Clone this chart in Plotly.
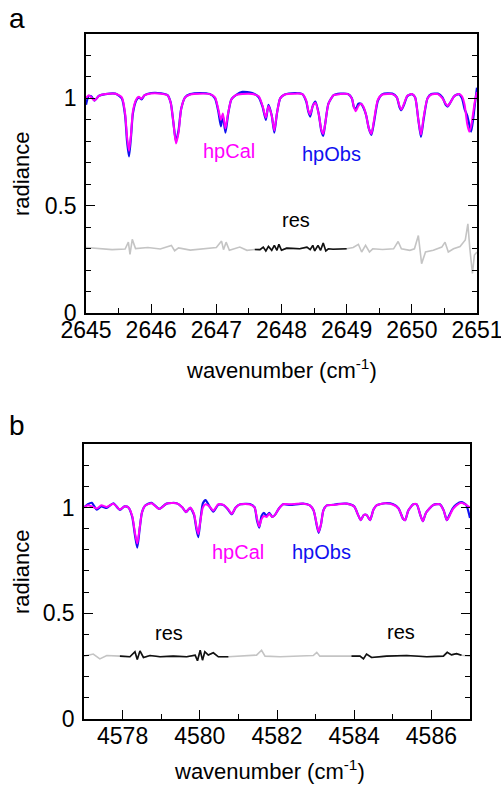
import plotly.graph_objects as go

# ---------------- Panel a data ----------------
wn_a = [2645.00, 2645.04, 2645.08, 2645.13, 2645.20, 2645.30, 2645.45, 2645.55, 2645.60, 2645.63,
        2645.66, 2645.69, 2645.72, 2645.77, 2645.81, 2645.85, 2645.90, 2646.00, 2646.15, 2646.25,
        2646.30, 2646.34, 2646.38, 2646.42, 2646.46, 2646.52, 2646.60, 2646.75, 2646.90, 2646.98,
        2647.03, 2647.07, 2647.10, 2647.14, 2647.18, 2647.23, 2647.30, 2647.40, 2647.55, 2647.65,
        2647.71, 2647.76, 2647.80, 2647.85, 2647.89, 2647.93, 2647.98, 2648.05, 2648.20, 2648.32,
        2648.38, 2648.41, 2648.44, 2648.48, 2648.52, 2648.57, 2648.61, 2648.64, 2648.67, 2648.72,
        2648.80, 2648.90, 2649.02, 2649.08, 2649.11, 2649.14, 2649.18, 2649.22, 2649.26, 2649.30,
        2649.34, 2649.38, 2649.42, 2649.48, 2649.55, 2649.70, 2649.77, 2649.81, 2649.84, 2649.88,
        2649.93, 2650.00, 2650.05, 2650.10, 2650.14, 2650.18, 2650.24, 2650.30, 2650.40, 2650.47,
        2650.52, 2650.55, 2650.59, 2650.65, 2650.72, 2650.77, 2650.81, 2650.85, 2650.88, 2650.91,
        2650.94, 2650.97, 2651.00]
cal_a = [1.000, 1.015, 1.005, 0.990, 1.012, 1.020, 1.022, 1.005, 0.930, 0.820,
         0.755, 0.830, 0.940, 0.995, 1.008, 0.998, 1.015, 1.023, 1.022, 1.015,
         0.980, 0.890, 0.790, 0.840, 0.950, 1.005, 1.018, 1.022, 1.020, 1.005,
         0.950, 0.900, 0.930, 0.860, 0.930, 0.995, 1.015, 1.020, 1.020, 1.010,
         0.965, 0.910, 0.965, 0.920, 0.850, 0.930, 1.000, 1.018, 1.022, 1.020,
         0.990, 0.945, 0.925, 0.965, 0.980, 0.930, 0.855, 0.835, 0.880, 0.975,
         1.015, 1.020, 1.020, 1.000, 0.960, 0.940, 0.965, 0.975, 0.960, 0.920,
         0.860, 0.835, 0.900, 0.995, 1.018, 1.020, 1.005, 0.965, 0.948, 0.975,
         1.012, 1.020, 1.005, 0.900, 0.830, 0.910, 1.000, 1.018, 1.020, 1.000,
         0.975, 0.965, 0.980, 1.010, 1.020, 1.010, 0.970, 0.880, 0.845, 0.870,
         0.930, 0.990, 1.030]
obs_a = [0.970, 1.010, 1.010, 0.990, 1.012, 1.020, 1.022, 1.000, 0.920, 0.800,
         0.730, 0.820, 0.930, 0.990, 1.005, 0.995, 1.015, 1.025, 1.024, 1.015,
         0.980, 0.890, 0.800, 0.850, 0.950, 1.005, 1.020, 1.025, 1.020, 1.000,
         0.940, 0.870, 0.920, 0.840, 0.925, 0.995, 1.015, 1.030, 1.025, 1.005,
         0.960, 0.900, 0.970, 0.920, 0.840, 0.930, 1.000, 1.018, 1.025, 1.020,
         0.985, 0.940, 0.915, 0.965, 0.985, 0.930, 0.850, 0.825, 0.880, 0.975,
         1.015, 1.022, 1.020, 1.000, 0.960, 0.950, 0.975, 0.975, 0.955, 0.920,
         0.860, 0.830, 0.890, 0.990, 1.020, 1.022, 1.005, 0.960, 0.945, 0.970,
         1.010, 1.020, 1.005, 0.900, 0.820, 0.900, 1.000, 1.020, 1.022, 1.005,
         0.970, 0.962, 0.980, 1.010, 1.020, 1.000, 0.950, 0.920, 0.880, 0.845,
         0.900, 0.980, 1.050]

res_wn_a = [2645.00, 2645.20, 2645.40, 2645.60, 2645.65, 2645.675, 2645.71, 2645.76, 2645.95, 2646.14,
            2646.31, 2646.36, 2646.42, 2646.60, 2646.85, 2647.00, 2647.08, 2647.11, 2647.15, 2647.20,
            2647.36, 2647.47, 2647.59, 2647.67, 2647.72, 2647.76, 2647.80, 2647.85, 2647.89, 2647.93,
            2647.96, 2648.00, 2648.08, 2648.28, 2648.39, 2648.44, 2648.48, 2648.51, 2648.56, 2648.60,
            2648.64, 2648.68, 2648.72, 2648.79, 2649.00, 2649.10, 2649.18, 2649.23, 2649.29, 2649.35,
            2649.40, 2649.55, 2649.72, 2649.79, 2649.84, 2649.97, 2650.04, 2650.10, 2650.15, 2650.21,
            2650.33, 2650.46, 2650.51, 2650.56, 2650.64, 2650.74, 2650.82, 2650.86, 2650.89, 2650.93,
            2650.96, 2651.00]
res_a = [0.305, 0.300, 0.295, 0.298, 0.330, 0.273, 0.343, 0.300, 0.305, 0.298,
         0.315, 0.290, 0.303, 0.293, 0.300, 0.305, 0.335, 0.295, 0.330, 0.292,
         0.307, 0.292, 0.296, 0.295, 0.307, 0.289, 0.310, 0.292, 0.315, 0.292,
         0.320, 0.292, 0.302, 0.299, 0.307, 0.295, 0.315, 0.289, 0.315, 0.292,
         0.326, 0.289, 0.299, 0.297, 0.299, 0.305, 0.320, 0.284, 0.315, 0.284,
         0.299, 0.296, 0.299, 0.333, 0.299, 0.292, 0.299, 0.361, 0.230, 0.284,
         0.292, 0.307, 0.330, 0.284, 0.299, 0.310, 0.340, 0.415, 0.300, 0.184,
         0.270, 0.284]
res_black_a = [(2647.59, 2649.00)]

# ---------------- Panel b data ----------------
wn_b = [4577.00, 4577.10, 4577.20, 4577.33, 4577.45, 4577.59, 4577.76, 4577.93, 4578.05, 4578.15,
        4578.25, 4578.32, 4578.38, 4578.44, 4578.50, 4578.58, 4578.75, 4578.95, 4579.14, 4579.40,
        4579.55, 4579.64, 4579.75, 4579.85, 4579.91, 4579.96, 4580.01, 4580.08, 4580.15, 4580.25,
        4580.35, 4580.48, 4580.61, 4580.72, 4580.83, 4580.93, 4581.05, 4581.30, 4581.42, 4581.48,
        4581.54, 4581.60, 4581.66, 4581.73, 4581.80, 4581.88, 4581.95, 4582.05, 4582.16, 4582.34,
        4582.68, 4582.85, 4582.95, 4583.03, 4583.08, 4583.14, 4583.20, 4583.29, 4583.45, 4583.55,
        4583.81, 4584.00, 4584.10, 4584.17, 4584.25, 4584.32, 4584.41, 4584.50, 4584.58, 4584.80,
        4585.01, 4585.15, 4585.27, 4585.32, 4585.40, 4585.53, 4585.62, 4585.72, 4585.78, 4585.86,
        4586.05, 4586.22, 4586.32, 4586.40, 4586.47, 4586.55, 4586.65, 4586.78, 4586.90, 4587.00]
cal_b = [1.000, 1.010, 1.005, 0.995, 1.010, 1.002, 1.018, 0.990, 1.005, 1.000,
         0.960, 0.880, 0.830, 0.900, 0.975, 1.008, 1.020, 0.993, 1.018, 1.020,
         1.000, 0.978, 1.000, 0.970, 0.910, 0.875, 0.930, 1.000, 1.015, 1.005,
         0.985, 1.015, 1.012, 0.995, 0.970, 1.000, 1.015, 1.014, 1.000, 0.950,
         0.910, 0.945, 0.960, 0.955, 0.970, 0.955, 0.965, 0.995, 1.015, 1.015,
         1.018, 1.010, 0.985, 0.920, 0.885, 0.920, 0.985, 1.010, 1.012, 1.014,
         1.018, 1.005, 0.965, 0.940, 0.965, 0.965, 0.940, 0.990, 1.010, 1.020,
         1.013, 0.995, 0.945, 0.940, 0.985, 1.015, 1.015, 0.960, 0.935, 0.975,
         1.012, 1.015, 0.985, 0.940, 0.960, 0.990, 1.010, 1.022, 1.012, 1.000]
obs_b = [1.000, 1.015, 1.022, 0.990, 1.005, 0.998, 1.020, 0.988, 1.005, 1.000,
         0.955, 0.870, 0.810, 0.895, 0.975, 1.008, 1.022, 0.993, 1.018, 1.020,
         1.000, 0.978, 0.998, 0.965, 0.900, 0.860, 0.930, 1.020, 1.035, 1.005,
         0.980, 1.013, 1.012, 0.993, 0.968, 1.000, 1.015, 1.016, 1.000, 0.940,
         0.905, 0.960, 0.975, 0.960, 0.975, 0.955, 0.965, 0.995, 1.015, 1.012,
         1.018, 1.010, 0.985, 0.915, 0.880, 0.920, 0.985, 1.010, 1.012, 1.016,
         1.018, 1.005, 0.965, 0.940, 0.965, 0.965, 0.940, 0.990, 1.010, 1.020,
         1.015, 0.995, 0.945, 0.940, 0.985, 1.015, 1.015, 0.960, 0.935, 0.975,
         1.012, 1.015, 0.985, 0.940, 0.965, 0.995, 1.015, 1.025, 1.012, 0.950]

res_wn_b = [4577.00, 4577.24, 4577.41, 4577.59, 4577.93, 4578.19, 4578.32, 4578.38, 4578.45, 4578.54,
            4578.71, 4578.97, 4579.31, 4579.66, 4579.88, 4579.94, 4580.01, 4580.07, 4580.13, 4580.22,
            4580.35, 4580.48, 4580.74, 4581.04, 4581.47, 4581.60, 4581.69, 4582.08, 4582.60, 4582.94,
            4583.03, 4583.11, 4583.93, 4584.15, 4584.24, 4584.32, 4584.45, 4584.84, 4585.36, 4585.88,
            4586.31, 4586.41, 4586.52, 4586.65, 4586.78, 4586.95, 4587.00]
res_b = [0.297, 0.307, 0.284, 0.300, 0.297, 0.294, 0.318, 0.281, 0.322, 0.291,
         0.300, 0.294, 0.297, 0.294, 0.302, 0.275, 0.325, 0.278, 0.318, 0.302,
         0.313, 0.294, 0.294, 0.297, 0.302, 0.325, 0.297, 0.294, 0.297, 0.300,
         0.315, 0.297, 0.297, 0.297, 0.284, 0.307, 0.291, 0.297, 0.300, 0.294,
         0.297, 0.315, 0.303, 0.309, 0.301, 0.297, 0.297]
res_black_b = [(4577.93, 4580.74), (4583.93, 4586.78)]

for a, b in [(wn_a, cal_a), (wn_a, obs_a), (res_wn_a, res_a), (wn_b, cal_b), (wn_b, obs_b), (res_wn_b, res_b)]:
    if len(a) != len(b):
        raise ValueError(f"length mismatch {len(a)} {len(b)}")

# ---------------- Figure ----------------
W, H = 501, 787
FONT = "Liberation Sans, Arial, sans-serif"
MAGENTA = "#ff00ff"
BLUE = "#1010f0"
GRAY = "#c4c4c4"
BLACK = "#111111"
TICKSIZE = 23

fig = go.Figure()

def add_panel(xa, ya, wn, cal, obs, rwn, res, windows):
    fig.add_trace(go.Scatter(x=rwn, y=res, mode="lines", line=dict(color=GRAY, width=1.6),
                             xaxis=xa, yaxis=ya, showlegend=False))
    for lo, hi in windows:
        sx = [w for w in rwn if lo - 1e-9 <= w <= hi + 1e-9]
        sy = [r for w, r in zip(rwn, res) if lo - 1e-9 <= w <= hi + 1e-9]
        fig.add_trace(go.Scatter(x=sx, y=sy, mode="lines", line=dict(color=BLACK, width=1.6),
                                 xaxis=xa, yaxis=ya, showlegend=False))
    fig.add_trace(go.Scatter(x=wn, y=obs, mode="lines", line=dict(color=BLUE, width=2.2, shape="spline", smoothing=0.6),
                             xaxis=xa, yaxis=ya, showlegend=False))
    fig.add_trace(go.Scatter(x=wn, y=cal, mode="lines", line=dict(color=MAGENTA, width=2.0, shape="spline", smoothing=0.6),
                             xaxis=xa, yaxis=ya, showlegend=False))

add_panel("x", "y", wn_a, cal_a, obs_a, res_wn_a, res_a, res_black_a)
add_panel("x2", "y2", wn_b, cal_b, obs_b, res_wn_b, res_b, res_black_b)

def px_x(p):
    return p / W

def px_y(p):
    return 1 - p / H

axis_common = dict(showgrid=False, zeroline=False, showline=True, linecolor="black", linewidth=1.5,
                   ticks="inside", tickcolor="black", tickwidth=1.3, ticklen=9, mirror=True,
                   tickfont=dict(family=FONT, size=TICKSIZE, color="black"), automargin=False,
                   ticklabeloverflow="allow")
EPS = 1e-4

fig.update_layout(
    width=W, height=H,
    margin=dict(l=0, r=0, t=0, b=0),
    paper_bgcolor="white", plot_bgcolor="white",
    xaxis=dict(axis_common, domain=[px_x(86), px_x(477)], range=[2645 - EPS, 2651 + EPS], anchor="y",
               tick0=2645, dtick=1, ticklabelstandoff=-4,
               minor=dict(ticks="inside", ticklen=5, dtick=0.5, tickcolor="black", tickwidth=1.2)),
    yaxis=dict(axis_common, domain=[px_y(313), px_y(34)], range=[0 - EPS, 1.3], anchor="x",
               tick0=0, dtick=0.5, ticklabelstandoff=3, mirror="ticks",
               minor=dict(ticks="inside", ticklen=5, dtick=0.1, tickcolor="black", tickwidth=1.2)),
    xaxis2=dict(axis_common, domain=[px_x(84), px_x(470)], range=[4577, 4587], anchor="y2",
                tick0=4578, dtick=2, ticklabelstandoff=-4,
                minor=dict(ticks="inside", ticklen=5, dtick=1, tickcolor="black", tickwidth=1.2)),
    yaxis2=dict(axis_common, domain=[px_y(719), px_y(444)], range=[0 - EPS, 1.3], anchor="x2",
                tick0=0, dtick=0.5, ticklabelstandoff=3, mirror="ticks",
                minor=dict(ticks="inside", ticklen=5, dtick=0.1, tickcolor="black", tickwidth=1.2)),
)

ann = []
def label(text, x, y, xref, yref, color="black", size=20, angle=0):
    ann.append(dict(text=text, x=x, y=y, xref=xref, yref=yref, showarrow=False,
                    xanchor="center", yanchor="middle", textangle=angle,
                    font=dict(family=FONT, size=size, color=color)))

# in-plot labels (data coordinates)
label("hpCal", 2647.19, 0.755, "x", "y", MAGENTA)
label("hpObs", 2648.76, 0.74, "x", "y", BLUE)
label("res", 2648.22, 0.435, "x", "y")
label("hpCal", 4580.99, 0.788, "x2", "y2", MAGENTA)
label("hpObs", 4583.14, 0.788, "x2", "y2", BLUE)
label("res", 4579.20, 0.406, "x2", "y2")
label("res", 4585.21, 0.41, "x2", "y2")

# panel letters and axis titles (paper coordinates)
label("a", px_x(17), px_y(18), "paper", "paper", size=28)
label("b", px_x(17), px_y(425), "paper", "paper", size=28)
label("radiance", px_x(21), px_y(174), "paper", "paper", size=22, angle=-90)
label("radiance", px_x(21), px_y(572), "paper", "paper", size=22, angle=-90)
label("wavenumber (cm<sup>-1</sup>)", px_x(281), px_y(369), "paper", "paper", size=22)
label("wavenumber (cm<sup>-1</sup>)", px_x(269), px_y(770), "paper", "paper", size=22)

fig.update_layout(annotations=ann)

fig.write_html("out.html", config={"displayModeBar": False},
               post_script="document.body.style.margin='0';document.body.style.overflow='hidden';")
